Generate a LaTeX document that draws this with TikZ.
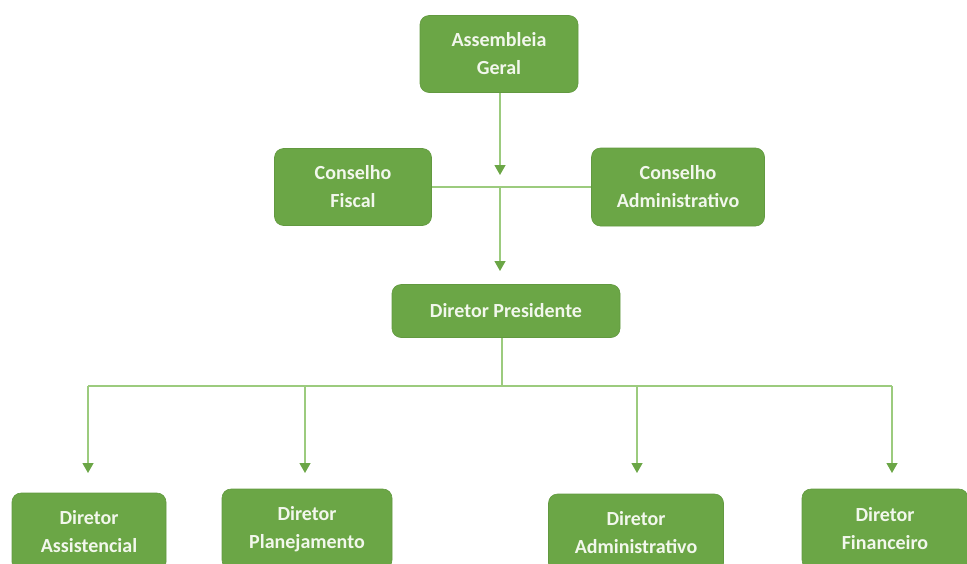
\documentclass[tikz,border=0pt]{standalone}
\usepackage{fontspec}
\setmainfont{Carlito}
\usetikzlibrary{arrows.meta}
\definecolor{boxgreen}{HTML}{6BA646}
\definecolor{linegreen}{HTML}{9CCB7E}
\definecolor{tipgreen}{HTML}{6BA646}
\definecolor{txt}{HTML}{F2F7EC}
\begin{document}
\begin{tikzpicture}[x=1pt,y=-1pt,
  box/.style={draw=boxgreen!92!black, line width=0.6pt, fill=boxgreen, rounded corners=9pt, text=txt, font=\bfseries\fontsize{20}{28}\selectfont, align=center, inner sep=0pt},
  conn/.style={draw=linegreen, line width=1.3pt},
  arr/.style={conn, -{Triangle[length=10pt,width=11pt,fill=tipgreen,color=tipgreen]}}
]
\clip (0,0) rectangle (967,563);
\useasboundingbox (0,0) rectangle (967,563);
\node[box, minimum width=158pt, minimum height=77pt] (ag) at (499,54) {Assembleia\\Geral};
\node[box, minimum width=157pt, minimum height=77pt] (cf) at (353,187) {Conselho\\Fiscal};
\node[box, minimum width=173pt, minimum height=78pt] (ca) at (678,187) {Conselho\\Administrativo};
\node[box, minimum width=228pt, minimum height=53pt] (dp) at (506,311) {Diretor Presidente};
\node[box, minimum width=154pt, minimum height=78pt] (da) at (89,532) {Diretor\\Assistencial};
\node[box, minimum width=170pt, minimum height=80pt] (dpl) at (307,529) {Diretor\\Planejamento};
\node[box, minimum width=175pt, minimum height=78pt] (dad) at (636,533) {Diretor\\Administrativo};
\node[box, minimum width=166pt, minimum height=80pt] (df) at (885,529) {Diretor\\Financeiro};
\coordinate (t1) at (500,175);
\coordinate (j1) at (500,187);
\coordinate (t2) at (500,271);
\coordinate (j2) at (502,386);
\coordinate (hl) at (88,386);
\coordinate (hr) at (892,386);
\draw[arr] (ag.south -| t1) -- (t1);
\draw[conn] (cf.east) -- (ca.west);
\draw[arr] (j1) -- (t2);
\draw[conn] (dp.south -| j2) -- (j2);
\draw[conn] (hl) -- (hr);
\draw[arr] (hl) -- (88,473);
\draw[arr] (305,386) -- (305,473);
\draw[arr] (637,386) -- (637,473);
\draw[arr] (hr) -- (892,473);
\end{tikzpicture}
\end{document}
